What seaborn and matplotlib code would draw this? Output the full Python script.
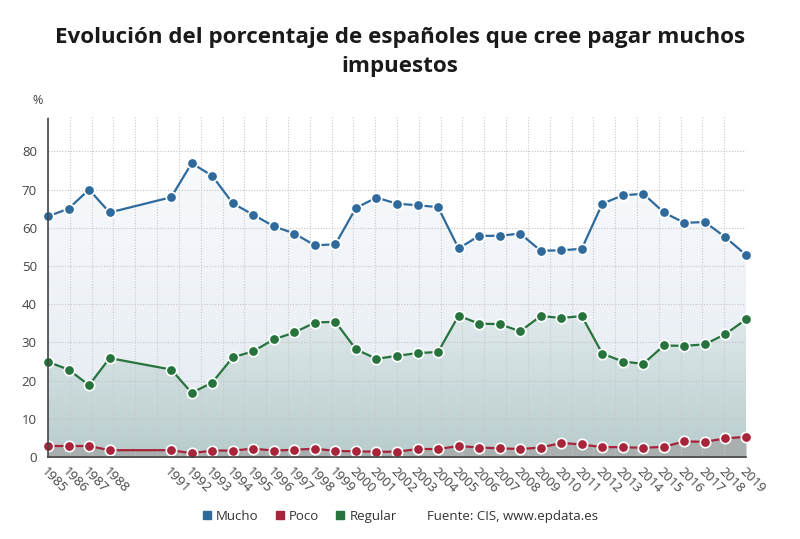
import numpy as np
import pandas as pd
import matplotlib
matplotlib.use("Agg")
import matplotlib.pyplot as plt
import seaborn as sns
from matplotlib.colors import LinearSegmentedColormap
from matplotlib.lines import Line2D

# Data
years = [1985, 1986, 1987, 1988, 1991, 1992, 1993, 1994, 1995, 1996, 1997, 1998,
         1999, 2000, 2001, 2002, 2003, 2004, 2005, 2006, 2007, 2008, 2009, 2010,
         2011, 2012, 2013, 2014, 2015, 2016, 2017, 2018, 2019]
mucho = [63.0, 65.0, 70.0, 64.0, 68.0, 76.9, 73.6, 66.4, 63.4, 60.4, 58.5, 55.4,
         55.7, 65.2, 67.9, 66.3, 65.9, 65.4, 54.6, 57.9, 57.9, 58.5, 54.0, 54.1,
         54.5, 66.3, 68.5, 68.9, 64.0, 61.3, 61.5, 57.5, 52.9]
regular = [24.9, 22.9, 18.8, 25.9, 22.9, 16.8, 19.5, 26.1, 27.7, 30.8, 32.6, 35.2,
           35.4, 28.2, 25.7, 26.5, 27.2, 27.5, 37.0, 34.9, 34.8, 32.9, 36.9, 36.4,
           36.9, 27.1, 25.0, 24.4, 29.2, 29.1, 29.5, 32.2, 36.0]
poco = [2.9, 2.9, 2.9, 1.8, 1.8, 1.0, 1.7, 1.7, 2.2, 1.7, 1.9, 2.2,
        1.6, 1.5, 1.4, 1.4, 2.1, 2.1, 2.9, 2.5, 2.3, 2.1, 2.5, 3.7,
        3.3, 2.6, 2.6, 2.4, 2.7, 4.1, 4.0, 4.9, 5.3]

series = ["Mucho", "Poco", "Regular"]
colors = {"Mucho": "#2f6a9c", "Poco": "#a8243a", "Regular": "#27733d"}

df = pd.DataFrame({"Año": years * 3,
                   "Valor": mucho + poco + regular,
                   "Serie": ["Mucho"] * len(years) + ["Poco"] * len(years) + ["Regular"] * len(years)})

sns.set_style("white")
plt.rcParams["font.family"] = ["Open Sans", "DejaVu Sans"]

fig = plt.figure(figsize=(8, 5.39), dpi=100)
ax = fig.add_axes([0.06, 0.152, 0.8725, 0.631])
ymax = 89
ax.set_xlim(1985, 2019)
ax.set_ylim(0, ymax)


def gradient_fill(x, y, top_color, bottom_color, top, zorder):
    poly = ax.fill_between(x, y, 0, color="none", lw=0, zorder=zorder)
    cmap = LinearSegmentedColormap.from_list("g", [bottom_color, top_color])
    grad = np.linspace(0, 1, 256).reshape(-1, 1)
    im = ax.imshow(grad, cmap=cmap, aspect="auto", origin="lower",
                   extent=[1985, 2019, 0, top], zorder=zorder)
    path = poly.get_paths()[0]
    im.set_clip_path(path, transform=ax.transData)


gradient_fill(years, mucho, "#f9fbfd", "#e2e9f1", 80, 1)
gradient_fill(years, regular, "#e0eaed", "#b8cccc", 38, 2)
ax.set_xlim(1985, 2019)
ax.set_ylim(0, ymax)
ax.fill_between(years, poco, 0, color="#a9aeae", lw=0, zorder=3)

# grid
for gx in np.linspace(1985, 2019, 33):
    ax.axvline(gx, color="#c8c8c8", lw=0.8, ls=(0, (1, 1.5)), zorder=4)
for gy in range(10, 90, 10):
    ax.axhline(gy, color="#c4c4c4", lw=0.8, ls=(0, (1, 1.5)), zorder=4)

sns.lineplot(data=df, x="Año", y="Valor", hue="Serie", palette=colors,
             marker="o", markersize=7.5, markeredgecolor="white",
             markeredgewidth=1.2, lw=1.6, legend=False, ax=ax, zorder=5,
             clip_on=False)

ax.set_xticks(years)
ax.set_xticklabels([str(y) for y in years], rotation=-45, ha="left", va="top",
                   rotation_mode="anchor", fontsize=9.5, color="#444444")
ax.set_yticks(range(0, 90, 10))
ax.set_yticklabels([str(v) for v in range(0, 90, 10)], fontsize=9.5, color="#444444")
ax.tick_params(axis="x", length=3, width=0.8, color="#555555", pad=3)
ax.tick_params(axis="y", length=0, pad=8)
ax.set_xlabel("")
ax.set_ylabel("")

for side in ["top", "right"]:
    ax.spines[side].set_visible(False)
for side in ["left", "bottom"]:
    ax.spines[side].set_color("#444444")
    ax.spines[side].set_linestyle((0, (1, 1)))
    ax.spines[side].set_linewidth(1.2)
    ax.spines[side].set_zorder(6)

fig.text(0.041, 0.813, "%", fontsize=9, color="#444444", ha="left", va="center")

fig.text(0.5, 0.903, "Evolución del porcentaje de españoles que cree pagar muchos\nimpuestos",
         ha="center", va="center", fontsize=16.1, fontweight="bold",
         color="#1a1a1a", linespacing=1.5)

handles = [Line2D([], [], marker="s", ls="", color=colors[s], markersize=6) for s in series]
handles.append(Line2D([], [], ls="", marker=None))
labels = series + ["Fuente: CIS, www.epdata.es"]
fig.legend(handles, labels, loc="center", bbox_to_anchor=(0.5, 0.042), ncol=4,
           frameon=False, fontsize=9.5, handlelength=0.8, handletextpad=0.3,
           columnspacing=1.2, labelcolor="#333333")

fig.savefig("out.png", dpi=100)
